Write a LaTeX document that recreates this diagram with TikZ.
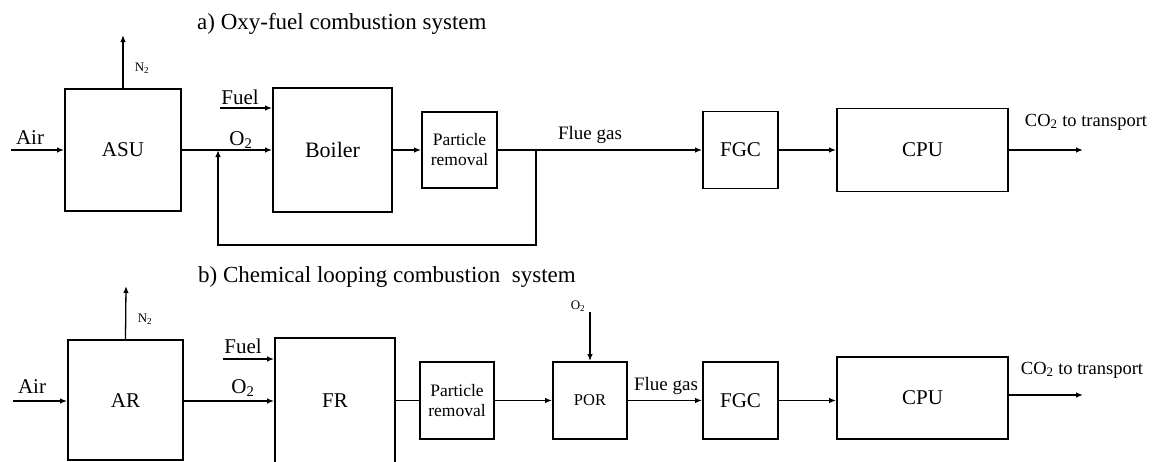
\documentclass[tikz,border=0pt]{standalone}
\usepackage{fontspec}
\setmainfont{Liberation Serif}
\usetikzlibrary{arrows.meta}
\tikzset{
  blk/.style={draw=black, line width=1.9pt, rectangle, inner sep=0pt, align=center},
  arr/.style={line width=1.3pt, -{Latex[length=7pt,width=5.5pt]}},
  ln/.style={line width=1.3pt},
  lbl/.style={inner sep=0pt, font=\fontsize{21}{22}\selectfont},
  small/.style={inner sep=0pt, font=\fontsize{13}{15}\selectfont},
  ttl/.style={inner sep=0pt, anchor=west, font=\fontsize{23}{25}\selectfont},
}
\newcommand{\sub}[1]{\textsubscript{#1}}
\begin{document}
\begin{tikzpicture}[x=1pt,y=-1pt]
\clip (0,0) rectangle (1162,461);
\fill[white] (0,0) rectangle (1162,461);

% ---------- a) ----------
\node[ttl] (ta) at (197,24) {a) Oxy-fuel combustion system};
\node[blk, minimum width=116pt, minimum height=122pt, font=\fontsize{21}{22}\selectfont] (ASU) at (123,150) {ASU};
\node[blk, minimum width=119pt, minimum height=124pt, font=\fontsize{22}{22}\selectfont] (Boiler) at (332.5,150) {Boiler};
\node[blk, minimum width=75pt, minimum height=76pt, font=\fontsize{17.5}{20}\selectfont] (PRa) at (459.5,150) {Particle\\removal};
\node[blk, minimum width=75pt, minimum height=77pt, font=\fontsize{21}{22}\selectfont] (FGCa) at (740.5,150) {FGC};
\node[blk, minimum width=171pt, minimum height=83pt, font=\fontsize{21}{22}\selectfont] (CPUa) at (922.5,150) {CPU};

\coordinate (aira) at (11,150);
\coordinate (n2a) at (123,35);
\coordinate (fuela) at (220,108);
\coordinate (ja) at (536,150);
\coordinate (rba) at (536,245);
\coordinate (rca) at (218,245);
\coordinate (rta) at (218,150);
\coordinate (co2a) at (1083,150);

\draw[arr] (aira) -- (ASU.west);
\draw[arr] (ASU.north) -- (n2a);
\draw[arr] (fuela) -- (fuela -| Boiler.west);
\draw[arr] (ASU.east) -- (Boiler.west);
\draw[arr] (Boiler.east) -- (PRa.west);
\draw[arr] (PRa.east) -- (FGCa.west);
\draw[arr] (ja) -- (rba) -- (rca) -- (rta);
\draw[arr] (FGCa.east) -- (CPUa.west);
\draw[arr] (CPUa.east) -- (co2a);

\node[lbl] (lair) at (30,138) {Air};
\node[small] (ln2a) at (142,68) {N\sub{2}};
\node[lbl] (lfuela) at (240,97) {Fuel};
\node[lbl] (lo2a) at (241,140) {O\sub{2}};
\node[lbl, font=\fontsize{19}{20}\selectfont] (lfga) at (590,135) {Flue gas};
\node[lbl, font=\fontsize{18.5}{20}\selectfont] (lco2a) at (1086,122) {CO\sub{2} to transport};

% ---------- b) ----------
\node[ttl] (tb) at (198,277) {b) Chemical looping combustion~ system};
\node[blk, minimum width=115pt, minimum height=120pt] (AR) at (125.5,400) {};
\node[lbl] at (125.5,401) {AR};
\node[blk, minimum width=120pt, minimum height=152pt] (FR) at (335,414) {};
\node[lbl] at (335,401) {FR};
\node[blk, minimum width=74pt, minimum height=77pt, font=\fontsize{17.5}{20}\selectfont] (PRb) at (457,400.5) {Particle\\removal};
\node[blk, minimum width=74pt, minimum height=77pt, font=\fontsize{16.5}{18}\selectfont] (POR) at (590,400.5) {POR};
\node[blk, minimum width=75pt, minimum height=77pt, font=\fontsize{21}{22}\selectfont] (FGCb) at (740.5,400.5) {FGC};
\node[blk, minimum width=171pt, minimum height=82pt, font=\fontsize{21}{22}\selectfont] (CPUb) at (922.5,398) {CPU};

\coordinate (airb) at (13,401);
\coordinate (n2b) at (126,286);
\coordinate (fuelb) at (223,359);
\coordinate (o2b) at (590,312);
\coordinate (co2b) at (1083,395);

\draw[arr] (airb) -- (airb -| AR.west);
\draw[arr] (AR.north) -- (n2b);
\draw[arr] (fuelb) -- (fuelb -| FR.west);
\draw[arr] (airb -| AR.east) -- (airb -| FR.west);
\draw[ln] (PRb.west -| FR.east) -- (PRb.west);
\draw[arr] (PRb.east) -- (POR.west);
\draw[arr] (o2b) -- (POR.north);
\draw[arr] (POR.east) -- (FGCb.west);
\draw[arr] (FGCb.east) -- (FGCb.east -| CPUb.west);
\draw[arr] (co2b -| CPUb.east) -- (co2b);

\node[lbl] (lairb) at (32,387) {Air};
\node[small] (ln2b) at (145,319) {N\sub{2}};
\node[lbl] (lfuelb) at (243,346) {Fuel};
\node[lbl] (lo2b) at (243,388) {O\sub{2}};
\node[small] (lo2c) at (578,306) {O\sub{2}};
\node[lbl, font=\fontsize{19}{20}\selectfont] (lfgb) at (666,386) {Flue gas};
\node[lbl, font=\fontsize{18.5}{20}\selectfont] (lco2b) at (1082,370) {CO\sub{2} to transport};
\end{tikzpicture}
\end{document}
